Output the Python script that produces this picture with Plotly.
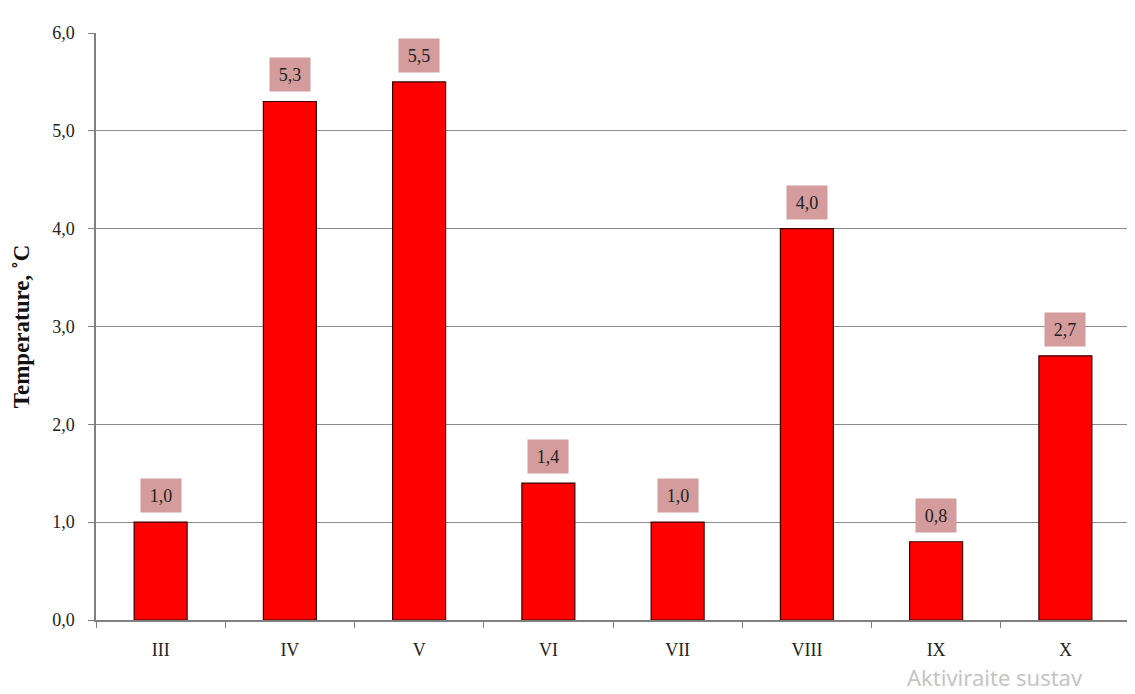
import plotly.graph_objects as go

months = ["III", "IV", "V", "VI", "VII", "VIII", "IX", "X"]
temps = [1.0, 5.3, 5.5, 1.4, 1.0, 4.0, 0.8, 2.7]
y_ticks = [0, 1, 2, 3, 4, 5, 6]

font_fam = "Liberation Serif, Times New Roman, serif"

fig = go.Figure()
fig.add_trace(go.Bar(
    x=months, y=temps, width=0.41,
    marker=dict(color="#ff0000", line=dict(color="#3a0000", width=1.2)),
))

for m, v in zip(months, temps):
    fig.add_annotation(
        x=m, y=v, text=f"{v:.1f}".replace(".", ","), showarrow=False,
        yanchor="bottom", yshift=9, bgcolor="#d49c9c",
        width=30, height=23, borderpad=5,
        font=dict(family=font_fam, size=18, color="#222222"),
    )

fig.add_annotation(
    xref="paper", yref="paper", x=0.782, y=-0.126, xanchor="left", yanchor="bottom",
    text="Aktiviraite sustav", showarrow=False,
    font=dict(family="Noto Sans, sans-serif", size=22, color="#c4c4c4"),
)

fig.update_layout(
    width=1127, height=686,
    margin=dict(l=88, r=5, t=25, b=74, autoexpand=False),
    plot_bgcolor="white", paper_bgcolor="white",
    separators=", ",
    showlegend=False,
    font=dict(family=font_fam, size=18, color="#222222"),
)
fig.update_xaxes(
    showline=True, linecolor="#808080", linewidth=1.5,
    ticks="outside", ticklen=6, tickcolor="#808080", tickson="boundaries",
    showgrid=False, tickfont=dict(size=18, family=font_fam), range=[-0.5, 7.5],
    ticklabelstandoff=13, automargin=False,
)
fig.update_yaxes(
    range=[0, 6], tickvals=y_ticks, tickformat=".1f",
    showline=True, linecolor="#808080", linewidth=1.5,
    ticks="outside", ticklen=6, tickcolor="#808080",
    showgrid=True, gridcolor="#8c8c8c", gridwidth=1.2,
    zeroline=False, automargin=False,
    tickfont=dict(size=18, family=font_fam), ticklabelstandoff=10,
    title=dict(text="<b>Temperature, ˚C</b>", font=dict(size=23, family=font_fam, color="#111111"), standoff=16),
)

fig.write_html("out.html")
